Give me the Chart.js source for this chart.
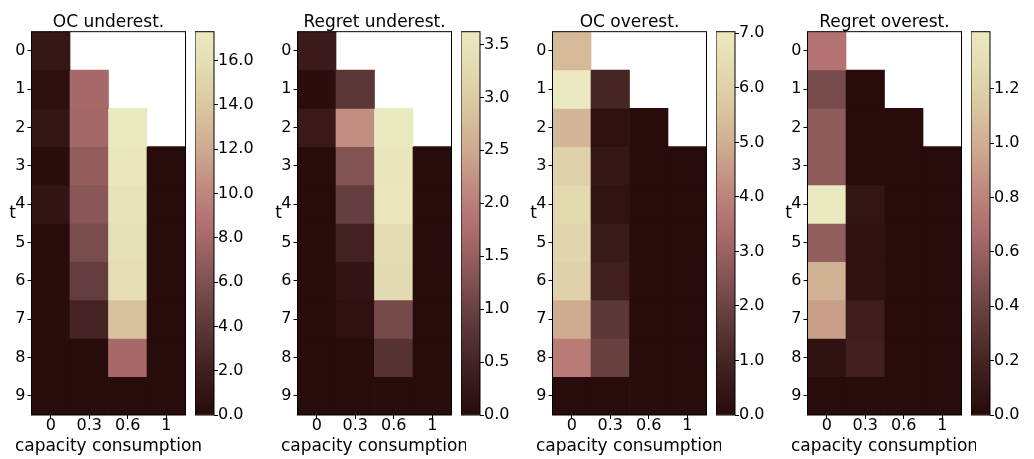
<!DOCTYPE html>
<html>
<head>
<meta charset="utf-8">
<script src="https://cdn.jsdelivr.net/npm/chart.js@4.4.1/dist/chart.umd.min.js"></script>
<style>
  html, body { margin: 0; padding: 0; background: #fff; }
  #wrap { position: relative; width: 1034px; height: 459px; overflow: hidden; }
  #wrap canvas { position: absolute; top: 0; }
</style>
</head>
<body>
<div id="wrap"></div>
<script>
// ---- data -------------------------------------------------------------
const tLabels = ['0', '1', '2', '3', '4', '5', '6', '7', '8', '9'];
const capLabels = ['0', '0.3', '0.6', '1'];
const titles = ['OC underest.', 'Regret underest.', 'OC overest.', 'Regret overest.'];
const xTitle = 'capacity consumption';
const yTitle = 't';

// rows = t 0..9, cols = capacity consumption 0 / 0.3 / 0.6 / 1 (null = not reachable)
const ocUnder = [
  [1.2, null, null, null],
  [0.4, 8.0, null, null],
  [1.0, 7.9, 17.3, null],
  [0.2, 7.0, 17.0, 0],
  [0.9, 6.5, 16.7, 0],
  [0.1, 5.7, 16.3, 0],
  [0.1, 4.5, 16.0, 0],
  [0.1, 2.3, 13.5, 0],
  [0, 0, 8.0, 0],
  [0, 0, 0, 0]
];
const regretUnder = [
  [0.35, null, null, null],
  [0.05, 0.8, null, null],
  [0.3, 2.2, 3.62, null],
  [0, 1.3, 3.55, 0],
  [0, 0.95, 3.58, 0],
  [0, 0.45, 3.3, 0],
  [0, 0.2, 3.28, 0],
  [0, 0.1, 1.15, 0],
  [0, 0, 0.75, 0],
  [0, 0, 0, 0]
];
const ocOver = [
  [5.3, null, null, null],
  [7.03, 1.0, null, null],
  [5.2, 0.2, 0, null],
  [6.0, 0.5, 0, 0],
  [6.3, 0.35, 0, 0],
  [6.2, 0.65, 0, 0],
  [6.0, 0.8, 0, 0],
  [4.9, 1.6, 0, 0],
  [3.8, 1.9, 0, 0],
  [0, 0, 0, 0]
];
const regretOver = [
  [0.72, null, null, null],
  [0.45, 0, null, null],
  [0.55, 0, 0, null],
  [0.55, 0, 0, 0],
  [1.41, 0.08, 0, 0],
  [0.57, 0.05, 0, 0],
  [1.02, 0.05, 0, 0],
  [0.93, 0.15, 0, 0],
  [0.06, 0.16, 0, 0],
  [0, 0, 0, 0]
];

// colorbar ranges and ticks
const vmaxes = [17.3, 3.62, 7.03, 1.41];
const cbTicks = [
  [0, 2, 4, 6, 8, 10, 12, 14, 16],
  [0, 0.5, 1, 1.5, 2, 2.5, 3, 3.5],
  [0, 1, 2, 3, 4, 5, 6, 7],
  [0, 0.2, 0.4, 0.6, 0.8, 1.0, 1.2]
];

// colormap stops (fraction -> rgb)
const cmap = [
  [0.00, [40, 11, 11]],
  [0.10, [60, 28, 28]],
  [0.25, [97, 60, 60]],
  [0.40, [145, 92, 92]],
  [0.50, [178, 112, 112]],
  [0.60, [193, 140, 128]],
  [0.70, [207, 172, 145]],
  [0.80, [218, 198, 160]],
  [0.90, [227, 218, 176]],
  [1.00, [235, 233, 192]]
];

// ---- layout -----------------------------------------------------------
const grids = [ocUnder, regretUnder, ocOver, regretOver];
const heatLeft = [31.5, 297.5, 552.5, 807.5];
const heatW = 154;
const cbLeft = [195, 461, 716, 971];
const cbW = 19;
const FONT = "'DejaVu Sans', sans-serif";

function colorAt(f) {
  f = Math.max(0, Math.min(1, f));
  for (let i = 1; i < cmap.length; i++) {
    if (f <= cmap[i][0]) {
      const [f0, c0] = cmap[i - 1], [f1, c1] = cmap[i];
      const k = (f - f0) / (f1 - f0);
      const c = c0.map((v, j) => Math.round(v + (c1[j] - v) * k));
      return `rgb(${c[0]},${c[1]},${c[2]})`;
    }
  }
  return 'rgb(235,233,192)';
}

const frame = {
  id: 'frame',
  afterDraw(chart) {
    const { ctx, chartArea: a } = chart;
    ctx.save();
    ctx.strokeStyle = '#000';
    ctx.lineWidth = 1;
    ctx.strokeRect(a.left, a.top, a.right - a.left, a.bottom - a.top);
    ctx.restore();
  }
};

// axis labels drawn by hand so the x label is not squeezed to the axis width
const axisLabels = {
  id: 'axisLabels',
  afterDraw(chart) {
    const { ctx, chartArea: a } = chart;
    ctx.save();
    ctx.fillStyle = '#000';
    ctx.font = '17px ' + FONT;
    ctx.textAlign = 'center';
    ctx.textBaseline = 'middle';
    ctx.fillText(yTitle, a.left - 19, 214);
    ctx.fillText(xTitle, (a.left + a.right) / 2, 447);
    ctx.restore();
  }
};

const wrap = document.getElementById('wrap');

function addCanvas(left, width) {
  const c = document.createElement('canvas');
  c.style.left = left + 'px';
  c.style.width = width + 'px';
  c.style.height = '459px';
  c.width = width;
  c.height = 459;
  wrap.appendChild(c);
  return c;
}

grids.forEach((grid, p) => {
  const vmax = vmaxes[p];

  // heatmap: one floating-bar dataset per t row
  const canvasLeft = heatLeft[p] - 31.5;
  const canvasW = p === 0 ? 230 : 200;
  const yW = 31.5;
  const hc = addCanvas(canvasLeft, canvasW);

  const datasets = grid.map((row, t) => ({
    label: 't=' + t,
    data: row.map(v => (v == null ? null : [t - 0.5, t + 0.5])),
    backgroundColor: row.map(v => (v == null ? 'rgba(0,0,0,0)' : colorAt(v / vmax))),
    borderWidth: 0,
    grouped: false,
    barPercentage: 1,
    categoryPercentage: 1
  }));

  new Chart(hc, {
    type: 'bar',
    data: { labels: capLabels, datasets },
    options: {
      responsive: false,
      animation: false,
      layout: { padding: { top: 13.5, right: canvasW - yW - heatW, left: 0, bottom: 0 } },
      plugins: {
        legend: { display: false },
        tooltip: { enabled: false },
        title: {
          display: true,
          text: titles[p],
          fullSize: false,
          color: '#000',
          font: { family: FONT, size: 17, weight: 'normal', lineHeight: 1.04 },
          padding: { top: 0, bottom: 0.5 }
        }
      },
      scales: {
        x: {
          type: 'category',
          offset: true,
          grid: { display: true, offset: false, drawOnChartArea: false, drawTicks: true, tickLength: 4, color: '#000' },
          border: { display: false },
          ticks: { color: '#000', font: { family: FONT, size: 16 }, padding: -3, maxRotation: 0, autoSkip: false },
          afterFit: s => { s.height = 44; }
        },
        y: {
          type: 'linear',
          reverse: true,
          min: -0.5,
          max: 9.5,
          afterBuildTicks: s => { s.ticks = tLabels.map(v => ({ value: Number(v) })); },
          grid: { display: true, drawOnChartArea: false, drawTicks: true, tickLength: 4, color: '#000' },
          border: { display: false },
          ticks: { color: '#000', font: { family: FONT, size: 16 }, padding: 2, callback: v => String(v) },
          afterFit: s => { s.width = yW; }
        }
      }
    },
    plugins: [frame, axisLabels]
  });

  // colorbar: a single floating bar 0..vmax filled with the colormap gradient
  const cbCanvasW = 63;
  const cc = addCanvas(cbLeft[p], cbCanvasW);
  new Chart(cc, {
    type: 'bar',
    data: {
      labels: ['cb'],
      datasets: [{
        data: [[0, vmax]],
        borderWidth: 0,
        barPercentage: 1,
        categoryPercentage: 1,
        backgroundColor: ctx => {
          const a = ctx.chart.chartArea;
          if (!a) return colorAt(0.5);
          const g = ctx.chart.ctx.createLinearGradient(0, a.bottom, 0, a.top);
          cmap.forEach(([f, c]) => g.addColorStop(f, `rgb(${c[0]},${c[1]},${c[2]})`));
          return g;
        }
      }]
    },
    options: {
      responsive: false,
      animation: false,
      layout: { padding: { top: 31.7, bottom: 44, left: 0, right: 0 } },
      plugins: { legend: { display: false }, tooltip: { enabled: false } },
      scales: {
        x: { display: false, offset: true },
        y: {
          position: 'right',
          min: 0,
          max: vmax,
          afterBuildTicks: s => { s.ticks = cbTicks[p].map(v => ({ value: v })); },
          grid: { display: true, drawOnChartArea: false, drawTicks: true, tickLength: 4, color: '#000' },
          border: { display: false },
          ticks: { color: '#000', font: { family: FONT, size: 16 }, padding: 0, callback: v => Number(v).toFixed(1) },
          afterFit: s => { s.width = cbCanvasW - cbW; }
        }
      }
    },
    plugins: [frame]
  });
});
</script>
</body>
</html>
